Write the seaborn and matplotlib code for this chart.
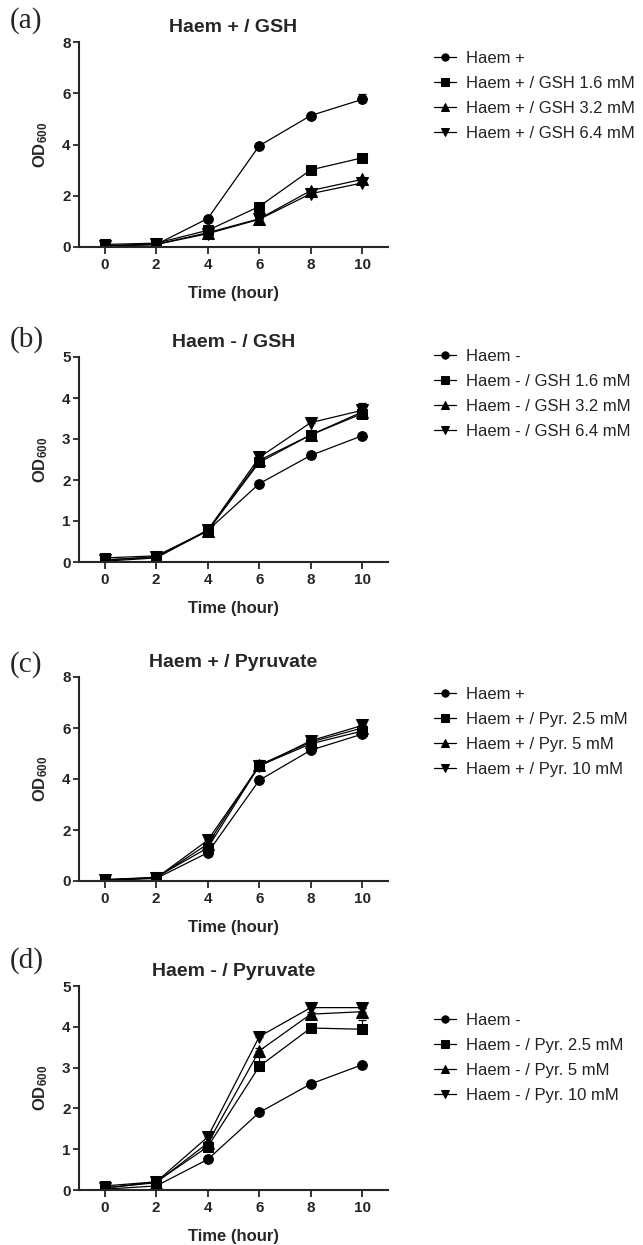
import numpy as np
import pandas as pd
import seaborn as sns
import matplotlib
matplotlib.use("Agg")
import matplotlib.pyplot as plt

# ============================================================
# DATA
# ============================================================
time_h = [0, 2, 4, 6, 8, 10]

# (a) Haem + / GSH
a_labels = ["Haem +", "Haem + / GSH 1.6 mM", "Haem + / GSH 3.2 mM", "Haem + / GSH 6.4 mM"]
a_haem = [0.03, 0.10, 1.11, 3.95, 5.13, 5.76]
a_gsh16 = [0.10, 0.15, 0.65, 1.58, 3.01, 3.48]
a_gsh32 = [0.05, 0.10, 0.56, 1.10, 2.20, 2.64]
a_gsh64 = [0.05, 0.10, 0.52, 1.08, 2.08, 2.50]
a_sd = [[0, 0, 0.05, 0.05, 0.05, 0.20],
        [0, 0, 0.05, 0.05, 0.05, 0.05],
        [0, 0, 0.05, 0.05, 0.05, 0.05],
        [0, 0, 0.05, 0.05, 0.05, 0.05]]

# (b) Haem - / GSH
b_labels = ["Haem -", "Haem - / GSH 1.6 mM", "Haem - / GSH 3.2 mM", "Haem - / GSH 6.4 mM"]
b_haem = [0.02, 0.10, 0.77, 1.91, 2.60, 3.08]
b_gsh16 = [0.10, 0.15, 0.76, 2.43, 3.10, 3.62]
b_gsh32 = [0.05, 0.12, 0.76, 2.48, 3.10, 3.66]
b_gsh64 = [0.05, 0.12, 0.78, 2.55, 3.40, 3.70]
b_sd = [[0, 0, 0.03, 0.03, 0.03, 0.03],
        [0, 0, 0.03, 0.05, 0.05, 0.05],
        [0, 0, 0.03, 0.05, 0.05, 0.08],
        [0, 0, 0.03, 0.05, 0.05, 0.18]]

# (c) Haem + / Pyruvate
c_labels = ["Haem +", "Haem + / Pyr. 2.5 mM", "Haem + / Pyr. 5 mM", "Haem + / Pyr. 10 mM"]
c_haem = [0.03, 0.10, 1.11, 3.95, 5.13, 5.76]
c_pyr25 = [0.05, 0.15, 1.30, 4.52, 5.38, 5.88]
c_pyr5 = [0.05, 0.12, 1.45, 4.55, 5.45, 6.00]
c_pyr10 = [0.05, 0.12, 1.60, 4.50, 5.50, 6.10]
c_sd = [[0, 0, 0.05, 0.05, 0.05, 0.05],
        [0, 0, 0.05, 0.22, 0.08, 0.10],
        [0, 0, 0.05, 0.10, 0.08, 0.10],
        [0, 0, 0.05, 0.10, 0.08, 0.15]]

# (d) Haem - / Pyruvate
d_labels = ["Haem -", "Haem - / Pyr. 2.5 mM", "Haem - / Pyr. 5 mM", "Haem - / Pyr. 10 mM"]
d_haem = [0.02, 0.10, 0.75, 1.90, 2.60, 3.07]
d_pyr25 = [0.10, 0.20, 1.06, 3.03, 3.97, 3.94]
d_pyr5 = [0.05, 0.18, 1.15, 3.41, 4.31, 4.37]
d_pyr10 = [0.05, 0.20, 1.30, 3.76, 4.47, 4.47]
d_sd = [[0, 0, 0.03, 0.03, 0.03, 0.03],
        [0, 0, 0.05, 0.22, 0.05, 0.22],
        [0, 0, 0.05, 0.08, 0.05, 0.08],
        [0, 0, 0.05, 0.06, 0.05, 0.06]]

markers = ["o", "s", "^", "v"]

panels = [
    ("(a)", "Haem + / GSH", a_labels, [a_haem, a_gsh16, a_gsh32, a_gsh64], a_sd, 8, 2),
    ("(b)", "Haem - / GSH", b_labels, [b_haem, b_gsh16, b_gsh32, b_gsh64], b_sd, 5, 1),
    ("(c)", "Haem + / Pyruvate", c_labels, [c_haem, c_pyr25, c_pyr5, c_pyr10], c_sd, 8, 2),
    ("(d)", "Haem - / Pyruvate", d_labels, [d_haem, d_pyr25, d_pyr5, d_pyr10], d_sd, 5, 1),
]

# ============================================================
# STYLE
# ============================================================
sns.set_style("ticks")
plt.rcParams["font.family"] = ["Liberation Sans", "DejaVu Sans"]
plt.rcParams["mathtext.fontset"] = "custom"
plt.rcParams["mathtext.rm"] = "Liberation Sans"
plt.rcParams["mathtext.bf"] = "Liberation Sans:bold"

W, H = 643, 1245
fig = plt.figure(figsize=(W / 100, H / 100), dpi=100)

# axes boxes in pixels: (top, bottom)
ax_px = [(42, 247), (357, 562), (677, 881), (986, 1190)]
ax_left, ax_right = 79, 388
label_y = [21, 340, 665, 961]
legend_y = [96, 394, 732, 1058]

for i, (tag, title, labels, series, sds, ymax, ystep) in enumerate(panels):
    top, bot = ax_px[i]
    ax = fig.add_axes([ax_left / W, 1 - bot / H, (ax_right - ax_left) / W, (bot - top) / H])

    for j, vals in enumerate(series):
        # upper-only error bars (lower half hidden behind the marker anyway)
        ax.errorbar(time_h, vals, yerr=[np.zeros(len(vals)), sds[j]], fmt="none",
                    ecolor="black", elinewidth=0.9, capsize=3, capthick=0.9)
        df = pd.DataFrame({"time": time_h, "od": vals})
        sns.lineplot(data=df, x="time", y="od", ax=ax, color="black", marker=markers[j],
                     markersize=7 if j < 2 else 8, markeredgecolor="black", linewidth=0.9,
                     label=labels[j])

    ax.set_xlim(-1, 11)
    ax.set_ylim(0, ymax)
    ax.set_xticks([0, 2, 4, 6, 8, 10])
    ax.set_yticks(np.arange(0, ymax + 0.1, ystep))
    ax.tick_params(axis="x", length=5, width=1.3, labelsize=11, pad=3)
    ax.tick_params(axis="y", length=4, width=1.3, labelsize=11, pad=2)
    for lab in ax.get_xticklabels() + ax.get_yticklabels():
        lab.set_fontweight("bold")
    for s in ["left", "bottom"]:
        ax.spines[s].set_linewidth(1.5)
    sns.despine(ax=ax)

    ax.set_title(title, fontsize=14, fontweight="bold", pad=7)
    ax.set_xlabel("Time (hour)", fontsize=12, fontweight="bold", labelpad=10)
    ax.set_ylabel(r"$\mathbf{OD_{600}}$", fontsize=12, labelpad=9)

    handles, labs = ax.get_legend_handles_labels()
    ax.get_legend().remove()
    leg = fig.legend(handles, labs, loc="center left", bbox_to_anchor=(434 / W, 1 - legend_y[i] / H),
                     frameon=False, fontsize=12, handlelength=1.3, handletextpad=0.6,
                     labelspacing=0.6, borderpad=0, borderaxespad=0, markerscale=0.75)
    for t in leg.get_texts():
        t.set_color("#222222")

    fig.text(10 / W, 1 - label_y[i] / H, tag, family=["Liberation Serif", "DejaVu Serif"],
             fontsize=21, ha="left", va="center")

fig.savefig("out.png", dpi=100)
